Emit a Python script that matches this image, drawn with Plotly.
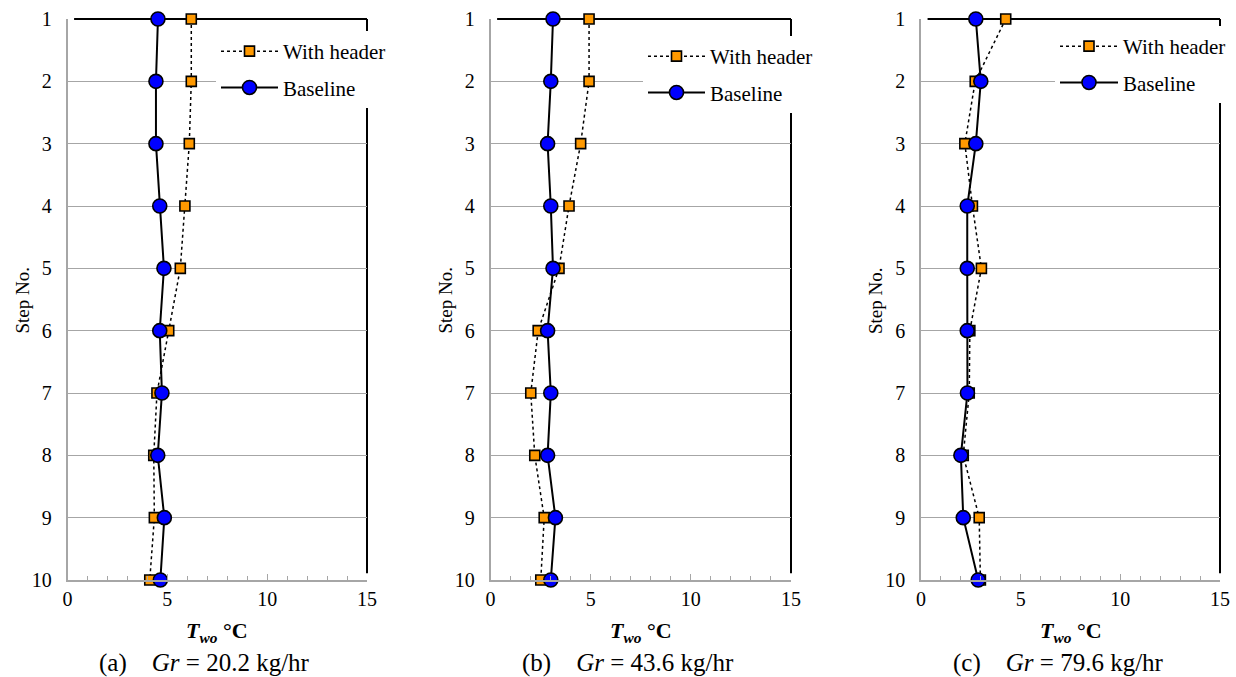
import plotly.graph_objects as go

steps = [1, 2, 3, 4, 5, 6, 7, 8, 9, 10]
panel_labels = ["(a)", "(b)", "(c)"]
gr_values = ["20.2", "43.6", "79.6"]
series_names = ["With header", "Baseline"]

header_a = [6.20, 6.20, 6.10, 5.88, 5.65, 5.07, 4.48, 4.32, 4.35, 4.12]
baseline_a = [4.53, 4.43, 4.43, 4.62, 4.83, 4.62, 4.73, 4.52, 4.85, 4.65]
header_b = [4.92, 4.92, 4.50, 3.92, 3.42, 2.38, 2.01, 2.21, 2.68, 2.51]
baseline_b = [3.12, 3.01, 2.85, 3.01, 3.12, 2.85, 3.01, 2.85, 3.24, 3.01]
header_c = [4.25, 2.72, 2.20, 2.58, 3.03, 2.45, 2.42, 2.12, 2.92, 2.98]
baseline_c = [2.75, 3.00, 2.75, 2.32, 2.32, 2.32, 2.33, 2.00, 2.12, 2.87]

x_ticks = [0, 5, 10, 15]

W, H = 1236, 677
FONT = "Liberation Serif"
GRAY = "#A6A6A6"

panels = [
    dict(header=header_a, base=baseline_a, x0=67.5, x1=367, leg_x=216, leg_y=31, iw=57),
    dict(header=header_b, base=baseline_b, x0=490.5, x1=791, leg_x=643, leg_y=36, iw=57),
    dict(header=header_c, base=baseline_c, x0=921, x1=1220, leg_x=1055, leg_y=26, iw=58),
]
y_top, y_bot = 19, 580

fig = go.Figure()
layout = dict(
    width=W, height=H,
    margin=dict(l=0, r=0, t=0, b=0),
    paper_bgcolor="white", plot_bgcolor="white",
    font=dict(family=FONT, size=19, color="black"),
    annotations=[], shapes=[],
)

for i, p in enumerate(panels):
    sfx = "" if i == 0 else str(i + 1)
    xa, ya = "x" + sfx, "y" + sfx
    leg = "legend" + sfx
    fig.add_trace(go.Scatter(
        x=p["header"], y=steps, xaxis=xa, yaxis=ya, name=series_names[0],
        mode="lines+markers", legend=leg, legendgroup="h" + sfx,
        line=dict(color="black", width=1.5, dash="dot"),
        marker=dict(symbol="square", size=10, color="#FF9900",
                    line=dict(color="black", width=1.6)),
        cliponaxis=False,
    ))
    fig.add_trace(go.Scatter(
        x=p["base"], y=steps, xaxis=xa, yaxis=ya, name=series_names[1],
        mode="lines+markers", legend=leg, legendgroup="b" + sfx,
        line=dict(color="black", width=2),
        marker=dict(symbol="circle", size=14, color="#0000FF",
                    line=dict(color="black", width=1.6)),
        cliponaxis=False,
    ))
    dom_x = [p["x0"] / W, p["x1"] / W]
    dom_y = [1 - y_bot / H, 1 - y_top / H]
    layout["xaxis" + sfx] = dict(
        domain=dom_x, anchor=ya, range=[0, 15], tickvals=x_ticks,
        showgrid=False, zeroline=False, showline=True, linecolor=GRAY, linewidth=1.5,
        ticks="inside", ticklen=6, tickcolor=GRAY, tickwidth=1.2,
        minor=dict(dtick=1, ticks="inside", ticklen=4, tickcolor=GRAY, tickwidth=1.2),
        tickfont=dict(size=20, family=FONT), automargin=False,
    )
    layout["yaxis" + sfx] = dict(
        domain=dom_y, anchor=xa, range=[10, 1], tickvals=steps,
        showgrid=True, gridcolor=GRAY, gridwidth=1.3, zeroline=False,
        showline=True, linecolor=GRAY, linewidth=1.5,
        ticks="inside", ticklen=5, tickcolor=GRAY,
        ticklabelstandoff=10,
        tickfont=dict(size=20, family=FONT), automargin=False,
    )
    layout[leg] = dict(
        x=p["leg_x"] / W, y=1 - p["leg_y"] / H, xanchor="left", yanchor="top",
        bgcolor="white", borderwidth=0, font=dict(size=21, family=FONT),
        tracegroupgap=6, itemwidth=p["iw"],
    )
    layout["shapes"].append(dict(type="line", xref=xa + " domain", yref=ya + " domain",
                                 x0=0.022, x1=1, y0=1, y1=1,
                                 line=dict(color="black", width=2), layer="below"))
    layout["shapes"].append(dict(type="line", xref=xa + " domain", yref=ya + " domain",
                                 x0=1, x1=1, y0=0.012, y1=1,
                                 line=dict(color="black", width=2), layer="below"))
    cx = (p["x0"] + p["x1"]) / 2 / W
    layout["annotations"].append(dict(
        text="<b><i>T<sub>wo</sub></i> °C</b>", x=cx, y=1 - 632 / H,
        xref="paper", yref="paper", showarrow=False, font=dict(size=22, family=FONT),
        xanchor="center", yanchor="middle"))
    layout["annotations"].append(dict(
        text=panel_labels[i] + "\u00a0\u00a0\u00a0\u00a0<i>Gr</i> = " + gr_values[i] + " kg/hr",
        x=(p["x0"] + 137) / W, y=1 - 663 / H,
        xref="paper", yref="paper", showarrow=False, font=dict(size=25, family=FONT),
        xanchor="center", yanchor="middle"))
    layout["annotations"].append(dict(
        text="Step No.", x=(p["x0"] - 46) / W, y=1 - 300 / H,
        xref="paper", yref="paper", showarrow=False, textangle=-90,
        font=dict(size=19, family=FONT), xanchor="center", yanchor="middle"))

fig.update_layout(**layout)
fig.write_html("out.html")
